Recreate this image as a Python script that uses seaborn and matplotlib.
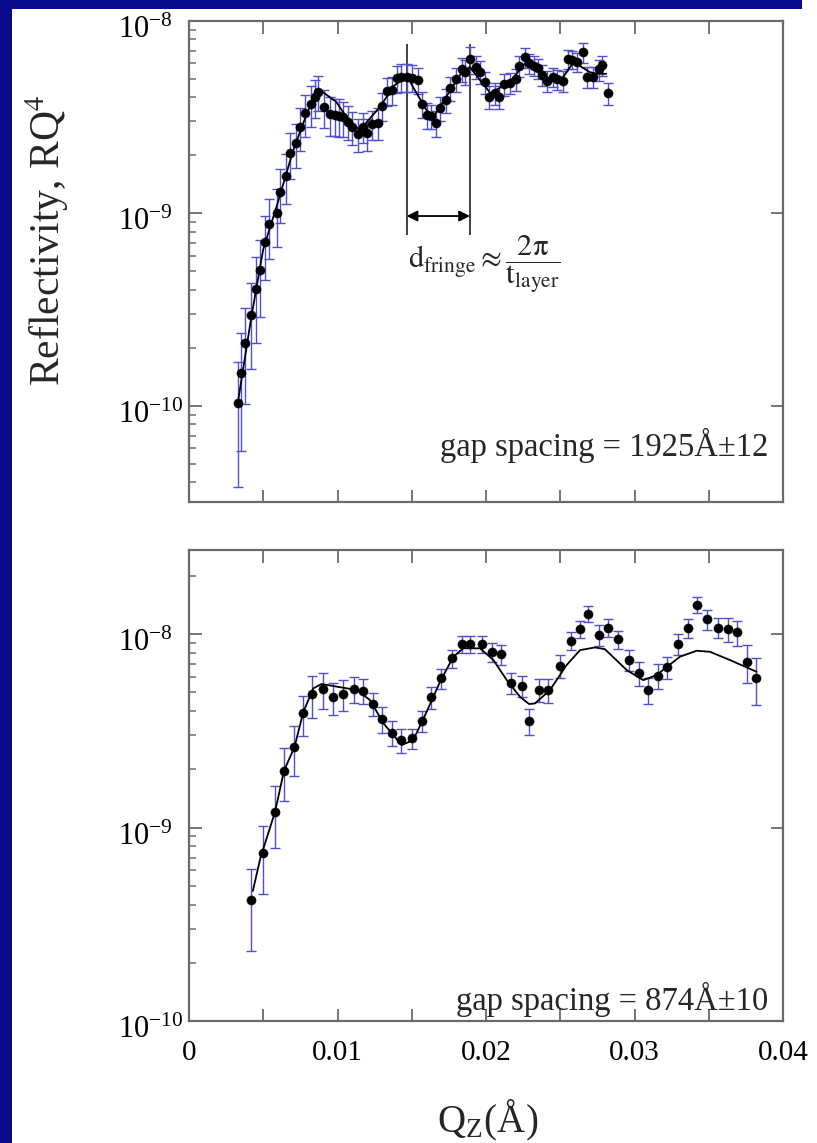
import numpy as np
import pandas as pd
import matplotlib
matplotlib.use("Agg")
import matplotlib.pyplot as plt
import matplotlib.transforms as mtransforms
import seaborn as sns
from matplotlib.patches import Rectangle
from matplotlib.ticker import MultipleLocator, LogLocator, NullFormatter

# ---------------- data: top panel (gap spacing 1925 A) ----------------
q_top = [0.0033, 0.0035, 0.0038, 0.0042, 0.0045, 0.0048, 0.0051, 0.0054, 0.0059, 0.0061,
         0.0065, 0.0068, 0.0072, 0.0075, 0.0078, 0.0082, 0.0085, 0.0087, 0.0091, 0.0095,
         0.0098, 0.0101, 0.0104, 0.0107, 0.0110, 0.0114, 0.0117, 0.0120, 0.0123, 0.0127,
         0.0130, 0.0133, 0.0137, 0.0140, 0.0143, 0.0147, 0.0150, 0.0154, 0.0157, 0.0160,
         0.0163, 0.0166, 0.0169, 0.0173, 0.0176, 0.0180, 0.0184, 0.0186, 0.0189, 0.0193,
         0.0196, 0.0199, 0.0202, 0.0206, 0.0209, 0.0212, 0.0216, 0.0220, 0.0222, 0.0226,
         0.0229, 0.0232, 0.0235, 0.0238, 0.0241, 0.0245, 0.0248, 0.0252, 0.0255, 0.0258,
         0.0261, 0.0265, 0.0268, 0.0272, 0.0276, 0.0278, 0.0282]
r_top = [1.03e-10, 1.48e-10, 2.12e-10, 2.95e-10, 4.03e-10, 5.1e-10, 7.1e-10, 8.8e-10, 1.0e-9, 1.29e-9,
         1.57e-9, 2.05e-9, 2.31e-9, 2.81e-9, 3.30e-9, 3.69e-9, 4.03e-9, 4.28e-9, 3.57e-9, 3.27e-9,
         3.23e-9, 3.20e-9, 3.15e-9, 2.99e-9, 2.81e-9, 2.58e-9, 2.81e-9, 2.60e-9, 2.90e-9, 2.95e-9,
         3.60e-9, 4.31e-9, 4.37e-9, 5.01e-9, 5.11e-9, 5.11e-9, 5.06e-9, 4.92e-9, 3.69e-9, 3.24e-9,
         3.20e-9, 2.95e-9, 3.51e-9, 3.87e-9, 4.46e-9, 4.98e-9, 5.61e-9, 5.43e-9, 6.30e-9, 5.75e-9,
         5.43e-9, 4.79e-9, 4.03e-9, 4.22e-9, 4.03e-9, 4.68e-9, 4.77e-9, 4.96e-9, 5.82e-9, 6.45e-9,
         6.01e-9, 5.84e-9, 5.66e-9, 5.22e-9, 4.88e-9, 5.11e-9, 4.97e-9, 4.87e-9, 6.31e-9, 6.28e-9,
         6.12e-9, 6.86e-9, 5.11e-9, 5.11e-9, 5.58e-9, 5.89e-9, 4.20e-9]
err_top = [0.65e-10, 0.9e-10, 1.1e-10, 1.4e-10, 1.9e-10, 2.2e-10, 2.6e-10, 3.0e-10, 3.3e-10, 4.0e-10,
           4.5e-10, 5.5e-10, 6.0e-10, 7.0e-10, 8.0e-10, 9.0e-10, 9.0e-10, 9.0e-10, 8.0e-10, 7.5e-10,
           7.0e-10, 7.0e-10, 6.5e-10, 6.0e-10, 5.5e-10, 5.0e-10, 5.0e-10, 5.0e-10, 5.0e-10, 5.5e-10,
           6.0e-10, 7.0e-10, 7.0e-10, 8.0e-10, 8.5e-10, 8.5e-10, 8.0e-10, 7.5e-10, 5.5e-10, 5.0e-10,
           4.5e-10, 4.5e-10, 5.0e-10, 5.5e-10, 6.5e-10, 7.0e-10, 8.0e-10, 8.0e-10, 1.0e-9, 8.0e-10,
           7.5e-10, 6.5e-10, 5.5e-10, 5.5e-10, 5.5e-10, 6.0e-10, 6.0e-10, 6.5e-10, 7.0e-10, 7.5e-10,
           7.0e-10, 7.0e-10, 7.0e-10, 6.5e-10, 6.0e-10, 6.0e-10, 6.0e-10, 6.0e-10, 7.0e-10, 7.0e-10,
           7.0e-10, 8.0e-10, 6.5e-10, 6.5e-10, 7.0e-10, 7.0e-10, 5.5e-10]
fit_q_top = [0.0033, 0.0042, 0.0050, 0.0060, 0.0070, 0.0080, 0.0088, 0.0099, 0.0108, 0.0115,
             0.0129, 0.0138, 0.0147, 0.0160, 0.0165, 0.0173, 0.0183, 0.0189, 0.0203, 0.0216,
             0.0227, 0.0243, 0.0252, 0.0259, 0.0270, 0.0275, 0.0281]
fit_r_top = [1.05e-10, 2.9e-10, 6.5e-10, 1.15e-9, 2.1e-9, 3.4e-9, 4.37e-9, 3.8e-9, 3.0e-9, 2.7e-9,
             3.6e-9, 4.6e-9, 5.1e-9, 3.42e-9, 3.2e-9, 4.0e-9, 5.3e-9, 5.75e-9, 4.2e-9, 4.8e-9,
             6.1e-9, 4.9e-9, 5.1e-9, 6.1e-9, 5.4e-9, 5.3e-9, 5.3e-9]

# ---------------- data: bottom panel (gap spacing 874 A) ----------------
q_bot = [0.0042, 0.0050, 0.0058, 0.0064, 0.0071, 0.0077, 0.0083, 0.0090, 0.0097, 0.0104,
         0.0111, 0.0117, 0.0124, 0.0130, 0.0137, 0.0143, 0.0150, 0.0157, 0.0163, 0.0170,
         0.0177, 0.0184, 0.0189, 0.0197, 0.0204, 0.0210, 0.0217, 0.0224, 0.0229, 0.0236,
         0.0242, 0.0250, 0.0257, 0.0263, 0.0269, 0.0276, 0.0282, 0.0289, 0.0296, 0.0303,
         0.0309, 0.0316, 0.0322, 0.0329, 0.0336, 0.0342, 0.0349, 0.0356, 0.0363, 0.0369,
         0.0376, 0.0382]
r_bot = [4.2e-10, 7.36e-10, 1.21e-9, 1.97e-9, 2.6e-9, 3.89e-9, 4.9e-9, 5.2e-9, 4.71e-9, 4.9e-9,
         5.2e-9, 5.08e-9, 4.35e-9, 3.64e-9, 3.09e-9, 2.83e-9, 2.89e-9, 3.57e-9, 4.71e-9, 5.9e-9,
         7.49e-9, 8.85e-9, 8.85e-9, 8.85e-9, 8.1e-9, 7.86e-9, 5.61e-9, 5.39e-9, 3.56e-9, 5.14e-9,
         5.14e-9, 6.86e-9, 9.23e-9, 1.06e-8, 1.27e-8, 9.88e-9, 1.08e-8, 9.42e-9, 7.34e-9, 6.27e-9,
         5.14e-9, 6.09e-9, 6.73e-9, 8.85e-9, 1.08e-8, 1.42e-8, 1.19e-8, 1.08e-8, 1.06e-8, 1.02e-8,
         7.19e-9, 5.9e-9]
err_bot = [1.9e-10, 2.8e-10, 4.3e-10, 6.0e-10, 7.5e-10, 9.0e-10, 1.2e-9, 1.1e-9, 9.0e-10, 9.0e-10,
           8.0e-10, 7.5e-10, 6.0e-10, 5.5e-10, 4.5e-10, 4.0e-10, 3.5e-10, 4.5e-10, 6.0e-10, 7.0e-10,
           8.0e-10, 9.0e-10, 9.0e-10, 9.0e-10, 9.0e-10, 9.0e-10, 7.0e-10, 6.5e-10, 5.5e-10, 7.0e-10,
           7.5e-10, 9.0e-10, 1.0e-9, 1.1e-9, 1.2e-9, 1.2e-9, 1.1e-9, 1.0e-9, 9.0e-10, 9.0e-10,
           8.0e-10, 9.0e-10, 9.0e-10, 1.1e-9, 1.2e-9, 1.4e-9, 1.4e-9, 1.3e-9, 1.5e-9, 1.5e-9,
           1.6e-9, 1.6e-9]
fit_q_bot = [0.0043, 0.0048, 0.0058, 0.0064, 0.0071, 0.0077, 0.00837, 0.00893, 0.00995, 0.01129,
             0.01219, 0.01309, 0.01432, 0.0151, 0.0160, 0.0169, 0.0178, 0.01847, 0.0196, 0.0205,
             0.0214, 0.02229, 0.0229, 0.0233, 0.02431, 0.02543, 0.02633, 0.02734, 0.02801, 0.02947,
             0.03059, 0.03149, 0.03306, 0.03419, 0.03508, 0.03643, 0.03823]
fit_r_bot = [4.7e-10, 6.93e-10, 1.21e-9, 1.97e-9, 2.6e-9, 3.96e-9, 5.24e-9, 5.52e-9, 5.35e-9, 5.14e-9,
             4.56e-9, 3.46e-9, 2.67e-9, 2.83e-9, 3.96e-9, 5.66e-9, 7.64e-9, 8.44e-9, 8.44e-9, 7.34e-9,
             5.78e-9, 4.74e-9, 4.35e-9, 4.38e-9, 5.14e-9, 6.92e-9, 8.26e-9, 8.53e-9, 8.35e-9, 6.52e-9,
             5.78e-9, 6.14e-9, 7.64e-9, 8.2e-9, 8.1e-9, 7.34e-9, 6.38e-9]

# annotation (fringe spacing) values
fringe_q = [0.01465, 0.01892]
fringe_lo, fringe_hi = 7.7e-10, 7.6e-9
arrow_r = 9.67e-10
formula_q, formula_r = 0.01475, 5.4e-10

x_ticks = [0.0, 0.01, 0.02, 0.03, 0.04]
x_ticklabels = ["0", "0.01", "0.02", "0.03", "0.04"]
y_ticks = [1e-10, 1e-9, 1e-8]
y_ticklabels = [r"$\mathregular{10^{-10}}$", r"$\mathregular{10^{-9}}$", r"$\mathregular{10^{-8}}$"]

# ---------------- styling ----------------
sns.set_theme(style="white")
plt.rcParams["font.family"] = ["Liberation Serif", "DejaVu Serif"]
plt.rcParams["mathtext.fontset"] = "stix"

SPINE = "#6a6a6a"
ERRC = "#4f4fd4"

fig = plt.figure(figsize=(8.17, 11.43), dpi=100)
fig.patch.set_facecolor("white")
W, H = 817.0, 1143.0
ax1 = fig.add_axes([189 / W, 1 - 502 / H, 594 / W, 481.3 / H])
ax2 = fig.add_axes([189 / W, 1 - 1021 / H, 594 / W, 471 / H])
label_shift = mtransforms.ScaledTranslation(0, -6 / 100.0, fig.dpi_scale_trans)


def draw_panel(ax, q, r, e, fq, fr, ylim, show_xlabels):
    ax.set_yscale("log")
    ax.errorbar(q, r, yerr=e, fmt="none", ecolor=ERRC, elinewidth=1.0,
                capsize=3.5, capthick=1.0, zorder=2)
    df_fit = pd.DataFrame({"q": fq, "r": fr})
    sns.lineplot(data=df_fit, x="q", y="r", ax=ax, color="black", lw=1.3,
                 sort=False, zorder=3)
    df = pd.DataFrame({"q": q, "r": r})
    sns.scatterplot(data=df, x="q", y="r", ax=ax, color="black", s=44,
                    edgecolor="black", linewidth=0.3, zorder=4)
    ax.set_xlim(0, 0.04)
    ax.set_ylim(*ylim)
    ax.set_xlabel("")
    ax.set_ylabel("")
    ax.set_xticks(x_ticks)
    ax.xaxis.set_minor_locator(MultipleLocator(0.005))
    ax.set_xticklabels(x_ticklabels)
    ax.set_yticks(y_ticks)
    ax.set_yticklabels(y_ticklabels)
    ax.yaxis.set_minor_locator(LogLocator(base=10, subs=np.arange(2, 10), numticks=20))
    ax.yaxis.set_minor_formatter(NullFormatter())
    ax.tick_params(axis="x", which="both", direction="in", length=9, width=1.3,
                   color=SPINE, top=True, bottom=True, labelsize=21, pad=14,
                   labelbottom=show_xlabels, labelcolor="black")
    ax.tick_params(axis="y", which="major", direction="in", length=9, width=1.3,
                   color=SPINE, left=True, right=True, labelsize=22, pad=51,
                   labelcolor="black")
    ax.tick_params(axis="y", which="minor", direction="in", length=5, width=1.1,
                   color=SPINE, left=True, right=False)
    for lbl in ax.get_yticklabels():
        lbl.set_horizontalalignment("left")
        lbl.set_transform(lbl.get_transform() + label_shift)
    for s in ax.spines.values():
        s.set_color(SPINE)
        s.set_linewidth(1.6)
        s.set_visible(True)


draw_panel(ax1, q_top, r_top, err_top, fit_q_top, fit_r_top, (10 ** -10.5, 1e-8), False)
draw_panel(ax2, q_bot, r_bot, err_bot, fit_q_bot, fit_r_bot, (1e-10, 2.72e-8), True)

# fringe annotation
ax1.vlines(fringe_q, fringe_lo, fringe_hi, color="#333333", lw=1.3, zorder=1)
ax1.annotate("", xy=(fringe_q[1], arrow_r), xytext=(fringe_q[0], arrow_r),
             arrowprops=dict(arrowstyle="<|-|>", color="black", lw=1.3,
                             shrinkA=0, shrinkB=0, mutation_scale=16))
ax1.text(formula_q, formula_r,
         r"$\mathrm{d_{fringe}}\approx\dfrac{\mathrm{2\pi}}{\mathrm{t_{layer}}}$",
         fontsize=22, ha="left", va="center")

ax1.text(0.975, 0.118, "gap spacing = 1925Å±12", transform=ax1.transAxes,
         ha="right", va="center", fontsize=23.5)
ax2.text(0.975, 0.045, "gap spacing = 874Å±10", transform=ax2.transAxes,
         ha="right", va="center", fontsize=23.5)

fig.text(47 / W, 1 - 240 / H, "Reflectivity, RQ$^4$", rotation=90,
         ha="center", va="center", fontsize=30)
fig.text(488 / W, 1 - 1120 / H, r"Q$_\mathregular{Z}$(Å)", ha="center",
         va="center", fontsize=28)

# dark blue slide border
BLUE = "#0a0a8c"
fig.patches.append(Rectangle((0, 0), 12 / W, 1, transform=fig.transFigure,
                             facecolor=BLUE, edgecolor="none", zorder=10))
fig.patches.append(Rectangle((0, 1 - 9 / H), 802 / W, 9 / H, transform=fig.transFigure,
                             facecolor=BLUE, edgecolor="none", zorder=10))

fig.savefig("out.png", dpi=100)
